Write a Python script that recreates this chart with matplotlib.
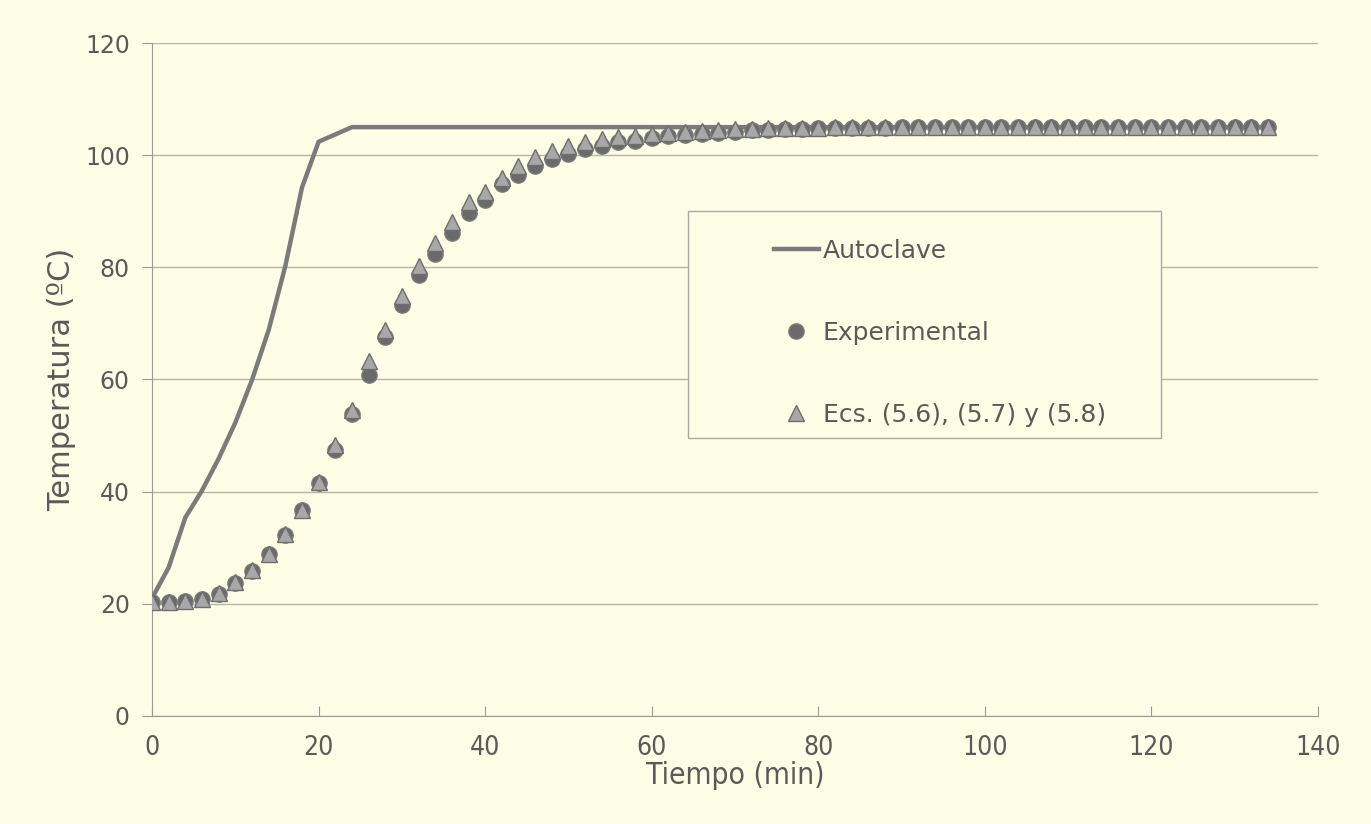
import numpy as np
import matplotlib
matplotlib.use("Agg")
import matplotlib.pyplot as plt
from matplotlib.patches import Rectangle

# tiempo (min) cada 2 minutos
tiempo = list(range(0, 136, 2))

autoclave = [21, 26.5, 35.4, 40.2, 45.9, 52.3, 59.9, 68.8, 80.2, 94.2,
             102.4, 103.7, 105] + [105] * (len(tiempo) - 13)

experimental = [20.4, 20.4, 20.5, 20.8, 21.8, 23.7, 25.9, 28.8, 32.3, 36.7,
                41.5, 47.5, 53.8, 60.8, 67.5, 73.2, 78.6, 82.4, 86.2, 89.7,
                92.0, 94.8, 96.4, 98.1, 99.3, 100.2, 101.1, 101.7, 102.3, 102.6,
                103.0, 103.4, 103.6, 103.8, 104.0, 104.2, 104.4, 104.5, 104.6, 104.7,
                104.8, 104.8, 104.9, 104.9, 104.9, 105, 105, 105, 105, 105,
                105, 105, 105, 105, 105, 105, 105, 105, 105, 105,
                105, 105, 105, 105, 105, 105, 105, 105]

modelo = [20.4, 20.4, 20.5, 20.8, 21.9, 23.9, 26.0, 28.9, 32.4, 36.8,
          41.8, 48.4, 54.5, 63.3, 68.8, 74.8, 80.2, 84.3, 88.1, 91.6,
          93.5, 96.0, 98.0, 99.6, 100.8, 101.7, 102.3, 102.9, 103.2, 103.4,
          103.7, 103.9, 104.2, 104.3, 104.5, 104.6, 104.7, 104.8, 104.8, 104.9,
          104.9, 105, 105, 105, 105, 105, 105, 105, 105, 105,
          105, 105, 105, 105, 105, 105, 105, 105, 105, 105,
          105, 105, 105, 105, 105, 105, 105, 105]

xticks = [0, 20, 40, 60, 80, 100, 120, 140]
yticks = [0, 20, 40, 60, 80, 100, 120]

bg = "#fefde6"
txt = "#5a5a5a"

fig = plt.figure(figsize=(13.71, 8.24), dpi=100)
fig.patch.set_facecolor(bg)
ax = fig.add_axes([0.1109, 0.1311, 0.8504, 0.8167])
ax.set_facecolor(bg)

ax.plot(tiempo, autoclave, color="#7b7b7b", lw=3.2, label="Autoclave", zorder=3)
ax.plot(tiempo, experimental, ls="none", marker="o", ms=11, mfc="#6a6a6a",
        mec="#7a7a7a", mew=1, label="Experimental", zorder=4)
ax.plot(tiempo, modelo, ls="none", marker="^", ms=11, mfc="#a8a8a8",
        mec="#6e6e6e", mew=1, label="Ecs. (5.6), (5.7) y (5.8)", zorder=5)

ax.set_xlim(0, 140)
ax.set_ylim(0, 120)
ax.set_xticks(xticks)
ax.set_yticks(yticks)
ax.grid(axis="y", color="#b5b5a8", lw=1)
ax.set_axisbelow(True)
for s in ["top", "right"]:
    ax.spines[s].set_visible(False)
ax.spines["left"].set_color("#9a9a9a")
ax.spines["bottom"].set_color("#9a9a9a")
ax.tick_params(axis="both", colors="#9a9a9a", length=7, direction="in")
ax.tick_params(axis="y", direction="out", labelcolor=txt, labelsize=17, pad=9)
ax.tick_params(axis="x", direction="in", labelcolor=txt, pad=14)
for lab in ax.get_xticklabels():
    lab.set_fontstretch("condensed")
    lab.set_fontsize(19)

ax.set_xlabel("Tiempo (min)", fontsize=21.5, fontstretch="condensed", color=txt, labelpad=0)
ax.set_ylabel("Temperatura (ºC)", fontsize=22, color=txt, labelpad=6)

# caja de la leyenda
ax.add_patch(Rectangle((0.46, 0.413), 0.405, 0.337, transform=ax.transAxes,
                       facecolor=bg, edgecolor="#a8a8a8", lw=1, zorder=6))
leg = ax.legend(loc="upper left", bbox_to_anchor=(0.514, 0.742), frameon=False,
                labelspacing=2.32, handlelength=1.8, handletextpad=0.15,
                prop={"size": 18})
leg.set_zorder(7)
for t in leg.get_texts():
    t.set_color(txt)

fig.savefig("out.png", dpi=100, facecolor=bg)
